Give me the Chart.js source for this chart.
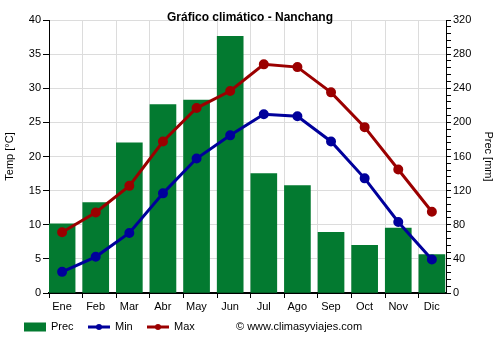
<!DOCTYPE html>
<html>
<head>
<meta charset="utf-8">
<script src="https://cdn.jsdelivr.net/npm/chart.js@4.4.1/dist/chart.umd.min.js"></script>
<style>
  body { margin: 0; background: #fff; }
  #box { width: 500px; height: 350px; }
</style>
</head>
<body>
<div id="box"><canvas id="mycanvas" width="500" height="350"></canvas></div>
<script>
var months = ['Ene', 'Feb', 'Mar', 'Abr', 'May', 'Jun', 'Jul', 'Ago', 'Sep', 'Oct', 'Nov', 'Dic'];
var prec = [81, 106, 176, 221, 226, 301, 140, 126, 71, 56, 76, 45];
var tmin = [3.1, 5.3, 8.8, 14.6, 19.7, 23.1, 26.2, 25.9, 22.2, 16.8, 10.4, 4.9];
var tmax = [8.9, 11.8, 15.7, 22.2, 27.1, 29.6, 33.5, 33.1, 29.4, 24.3, 18.1, 11.9];
var tempTicks = [0, 5, 10, 15, 20, 25, 30, 35, 40];
var precTicks = [0, 40, 80, 120, 160, 200, 240, 280, 320];

var fontFam = "'Liberation Sans', Arial, sans-serif";
var green = 'rgb(3,122,48)';
var blue = 'rgb(0,0,155)';
var red = 'rgb(155,0,0)';

function pts(arr) {
    return arr.map(function(v, i) { return {x: i, y: v}; });
}

// legend + copyright drawn by hand at the bottom
var legendPlugin = {
    id: 'bottomLegend',
    afterDraw: function(chart) {
        var ctx = chart.ctx;
        var y = 327;
        ctx.save();
        ctx.font = '11px ' + fontFam;
        ctx.textBaseline = 'middle';
        ctx.fillStyle = green;
        ctx.fillRect(24, y - 4.5, 22, 9);
        ctx.fillStyle = '#000';
        ctx.fillText('Prec', 51, y);
        [[88, blue, 'Min'], [147, red, 'Max']].forEach(function(it) {
            ctx.strokeStyle = it[1];
            ctx.lineWidth = 3;
            ctx.beginPath();
            ctx.moveTo(it[0], y);
            ctx.lineTo(it[0] + 22, y);
            ctx.stroke();
            ctx.fillStyle = it[1];
            ctx.beginPath();
            ctx.arc(it[0] + 11, y, 3, 0, Math.PI * 2);
            ctx.fill();
            ctx.fillStyle = '#000';
            ctx.fillText(it[2], it[0] + 27, y);
        });
        ctx.fillText('\u00a9 www.climasyviajes.com', 236, y);
        ctx.restore();
    }
};

var chartdata = {
    datasets: [
        {
            type: 'line',
            label: 'Min',
            data: pts(tmin),
            borderColor: blue,
            backgroundColor: blue,
            borderWidth: 3,
            pointRadius: 3.5,
            pointHoverRadius: 3.5,
            yAxisID: 'y',
            order: 1
        },
        {
            type: 'line',
            label: 'Max',
            data: pts(tmax),
            borderColor: red,
            backgroundColor: red,
            borderWidth: 3,
            pointRadius: 3.5,
            pointHoverRadius: 3.5,
            yAxisID: 'y',
            order: 1
        },
        {
            type: 'bar',
            label: 'Prec',
            data: pts(prec),
            backgroundColor: green,
            barThickness: 26,
            yAxisID: 'y1',
            order: 2
        }
    ]
};

var ctx = document.getElementById('mycanvas');
var climaChart = new Chart(ctx, {
    type: 'line',
    data: chartdata,
    plugins: [legendPlugin],
    options: {
        responsive: false,
        animation: false,
        layout: { padding: 0 },
        plugins: {
            legend: { display: false },
            tooltip: { enabled: false },
            title: {
                display: true,
                text: 'Gráfico climático - Nanchang',
                color: '#000',
                font: { family: fontFam, size: 12, weight: 'bold' },
                padding: { top: 10, bottom: -4.4 }
            }
        },
        scales: {
            x: {
                type: 'linear',
                min: -0.39,
                max: 11.42,
                offset: false,
                afterBuildTicks: function(scale) {
                    scale.ticks = months.map(function(m, i) { return {value: i - 0.39}; });
                },
                afterFit: function(scale) { scale.height = 57; },
                ticks: {
                    autoSkip: false,
                    maxRotation: 0,
                    labelOffset: 13,
                    padding: 2,
                    color: '#000',
                    font: { family: fontFam, size: 11 },
                    callback: function(v, i) { return months[i]; }
                },
                grid: { color: '#dcdcdc', offset: false, tickColor: '#000', tickLength: 5 },
                border: { color: '#000', width: 2 }
            },
            y: {
                position: 'left',
                min: 0,
                max: 40,
                afterBuildTicks: function(scale) {
                    scale.ticks = tempTicks.map(function(v) { return {value: v}; });
                },
                afterFit: function(scale) { scale.width = 49; },
                ticks: { color: '#000', padding: 2, font: { family: fontFam, size: 11 } },
                grid: { color: '#dcdcdc', tickColor: '#000', tickLength: 6 },
                border: { color: '#000' },
                title: {
                    display: true,
                    text: 'Temp [°C]',
                    color: '#000',
                    font: { family: fontFam, size: 11 },
                    padding: { top: 3, bottom: 0 }
                }
            },
            y1: {
                position: 'right',
                min: 0,
                max: 320,
                ticks: {
                    stepSize: 8,
                    autoSkip: false,
                    color: '#000',
                    padding: 2,
                    font: { family: fontFam, size: 11 },
                    callback: function(v) { return precTicks.indexOf(v) >= 0 ? v : ''; }
                },
                afterFit: function(scale) { scale.width = 54; },
                grid: { drawOnChartArea: false, tickColor: '#000', tickLength: 5 },
                border: { color: '#000' },
                title: {
                    display: true,
                    text: 'Prec [mm]',
                    color: '#000',
                    font: { family: fontFam, size: 11 },
                    padding: { top: 5, bottom: 0 }
                }
            }
        }
    }
});
</script>
</body>
</html>
